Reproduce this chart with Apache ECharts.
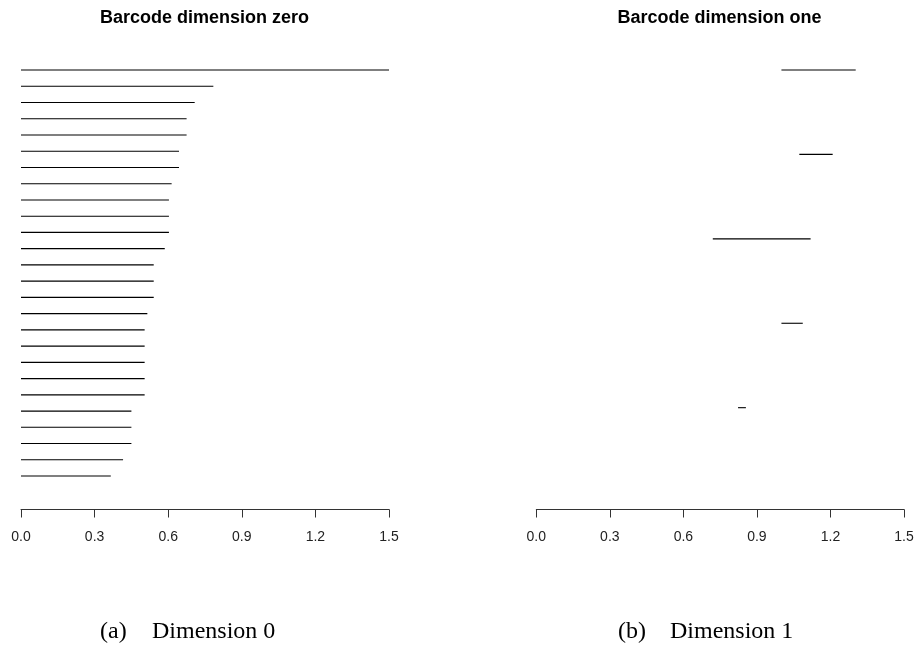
<!DOCTYPE html>
<html>
<head>
<meta charset="utf-8">
<script src="https://cdn.jsdelivr.net/npm/echarts@6/dist/echarts.min.js"></script>
<style>
html,body{margin:0;padding:0;background:#fff;}
#chart{width:917px;height:645px;}
</style>
</head>
<body>
<div id="chart"></div>
<script>
// ---- data ----
const titles = ['Barcode dimension zero', 'Barcode dimension one'];
const captionTags = ['(a)', '(b)'];
const captionTexts = ['Dimension 0', 'Dimension 1'];
const xTicks = [0.0, 0.3, 0.6, 0.9, 1.2, 1.5];

const dim0Birth = [0,0,0,0,0,0,0,0,0,0,0,0,0,0,0,0,0,0,0,0,0,0,0,0,0,0];
const dim0Death = [1.5, 0.784, 0.708, 0.675, 0.675, 0.644, 0.644, 0.614, 0.603, 0.603, 0.603, 0.586, 0.541,
                   0.541, 0.541, 0.515, 0.504, 0.504, 0.504, 0.504, 0.504, 0.450, 0.450, 0.450, 0.416, 0.366];

const dim1Birth = [1.000, 1.073, 0.720, 1.000, 0.823];
const dim1Death = [1.303, 1.209, 1.119, 1.087, 0.855];

// ---- build ----
function toData(b, d) {
  return b.map((v, i) => [v, d[i], i + 1]);
}
function renderBar(params, api) {
  const s = api.coord([api.value(0), api.value(2)]);
  const e = api.coord([api.value(1), api.value(2)]);
  return {
    type: 'line',
    shape: { x1: s[0], y1: s[1], x2: e[0], y2: e[1] },
    style: { stroke: '#000', lineWidth: 1.1 }
  };
}
const axisFont = 'Liberation Sans, Arial, sans-serif';
function xAxisFor(idx) {
  return {
    type: 'value', gridIndex: idx, min: xTicks[0], max: xTicks[xTicks.length - 1], interval: 0.3,
    position: 'bottom',
    axisLine: { show: true, lineStyle: { color: '#333', width: 1 } },
    axisTick: { show: true, inside: false, length: 8, lineStyle: { color: '#333', width: 1 } },
    axisLabel: {
      show: true, margin: 21, fontSize: 14, color: '#222', fontFamily: axisFont,
      formatter: v => v.toFixed(1)
    },
    splitLine: { show: false }
  };
}
const chart = echarts.init(document.getElementById('chart'), null, { renderer: 'canvas' });
const option = {
  animation: false,
  backgroundColor: '#fff',
  grid: [
    { left: 21, top: 70, width: 368, height: 439.5 },
    { left: 536.3, top: 70, width: 367.7, height: 439.5 }
  ],
  xAxis: [xAxisFor(0), xAxisFor(1)],
  yAxis: [
    { type: 'value', gridIndex: 0, inverse: true, min: 1, max: 28.06, show: false, splitLine: { show: false } },
    { type: 'value', gridIndex: 1, inverse: true, min: 1, max: 6.206, show: false, splitLine: { show: false } }
  ],
  series: [
    { type: 'custom', xAxisIndex: 0, yAxisIndex: 0, clip: false, renderItem: renderBar,
      encode: { x: [0, 1], y: 2 }, data: toData(dim0Birth, dim0Death) },
    { type: 'custom', xAxisIndex: 1, yAxisIndex: 1, clip: false, renderItem: renderBar,
      encode: { x: [0, 1], y: 2 }, data: toData(dim1Birth, dim1Death) }
  ],
  graphic: [
    { type: 'text', x: 204.5, y: 18, style: { text: titles[0], font: 'bold 18px "Liberation Sans", Arial, sans-serif', fill: '#000', textAlign: 'center', textVerticalAlign: 'middle' } },
    { type: 'text', x: 719.5, y: 18, style: { text: titles[1], font: 'bold 18px "Liberation Sans", Arial, sans-serif', fill: '#000', textAlign: 'center', textVerticalAlign: 'middle' } },
    { type: 'text', x: 100, y: 632, style: { text: captionTags[0], font: '24px "Liberation Serif", "Times New Roman", serif', fill: '#000', textAlign: 'left', textVerticalAlign: 'middle' } },
    { type: 'text', x: 152, y: 632, style: { text: captionTexts[0], font: '24px "Liberation Serif", "Times New Roman", serif', fill: '#000', textAlign: 'left', textVerticalAlign: 'middle' } },
    { type: 'text', x: 618, y: 632, style: { text: captionTags[1], font: '24px "Liberation Serif", "Times New Roman", serif', fill: '#000', textAlign: 'left', textVerticalAlign: 'middle' } },
    { type: 'text', x: 670, y: 632, style: { text: captionTexts[1], font: '24px "Liberation Serif", "Times New Roman", serif', fill: '#000', textAlign: 'left', textVerticalAlign: 'middle' } }
  ]
};
chart.setOption(option);
</script>
</body>
</html>
